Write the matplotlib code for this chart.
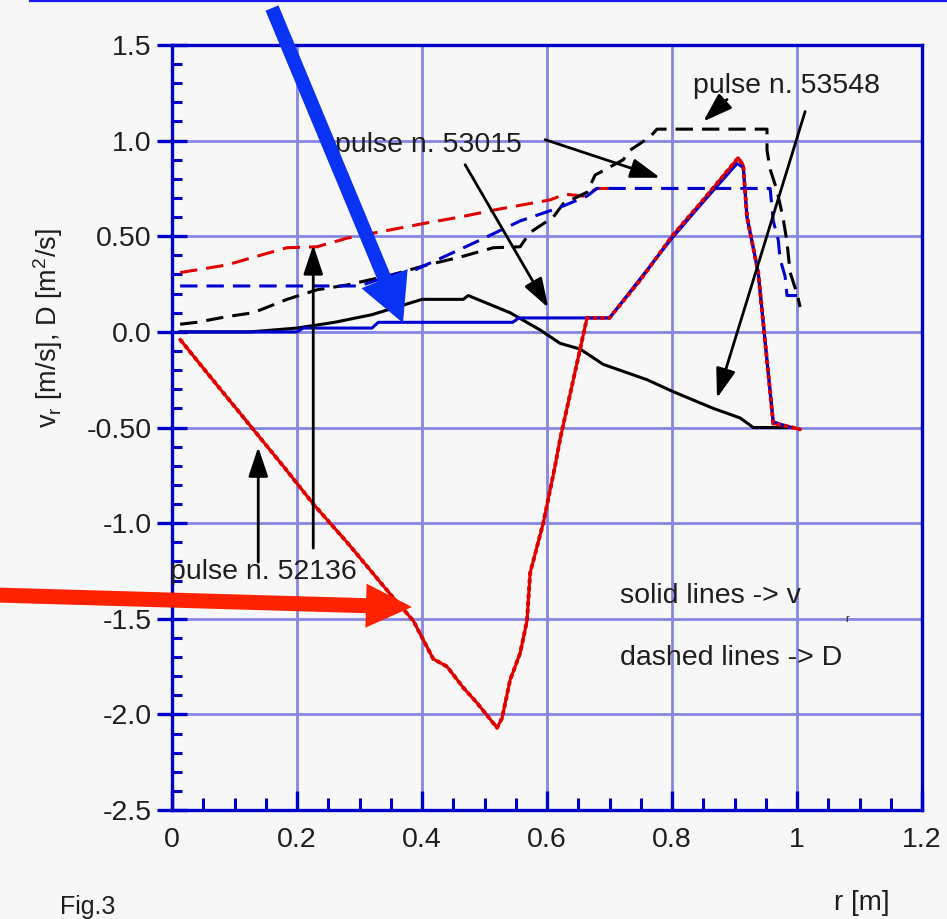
import matplotlib
matplotlib.use('Agg')
import matplotlib.pyplot as plt
from matplotlib.patches import FancyArrow
from matplotlib.lines import Line2D
from matplotlib.ticker import MultipleLocator, FixedLocator
from matplotlib.transforms import IdentityTransform

plt.rcParams['font.family'] = ['Liberation Sans', 'DejaVu Sans']
plt.rcParams['lines.scale_dashes'] = False

# ---------------- data ----------------
# pulse 52136, velocity (red solid)
r_v_52136 = [0.013, 0.06, 0.13, 0.18, 0.226, 0.28, 0.354, 0.386, 0.418, 0.44, 0.466, 0.488,
             0.52, 0.528, 0.541, 0.557, 0.568, 0.573, 0.594, 0.613, 0.621, 0.653, 0.664,
             0.70, 0.749, 0.80, 0.85, 0.906, 0.914, 0.92, 0.938, 0.952, 0.962, 0.98, 1.005]
v_52136 = [-0.04, -0.23, -0.51, -0.71, -0.90, -1.10, -1.39, -1.51, -1.71, -1.75, -1.86, -1.94,
           -2.07, -2.02, -1.82, -1.68, -1.51, -1.26, -1.00, -0.70, -0.56, -0.09, 0.073,
           0.073, 0.27, 0.50, 0.69, 0.91, 0.87, 0.60, 0.31, -0.15, -0.48, -0.49, -0.51]

# pulse 53015, velocity (blue solid)
r_v_53015 = [0.013, 0.20, 0.21, 0.32, 0.33, 0.545, 0.555, 0.70, 0.80, 0.85, 0.904,
             0.914, 0.92, 0.938, 0.952, 0.962, 0.99]
v_53015 = [0.0, 0.0, 0.02, 0.02, 0.05, 0.05, 0.073, 0.073, 0.49, 0.68, 0.88,
           0.86, 0.60, 0.31, -0.15, -0.47, -0.50]

# pulse 53548, velocity (black solid)
r_v_53548 = [0.013, 0.125, 0.20, 0.26, 0.32, 0.40, 0.466, 0.474, 0.541, 0.589, 0.621,
             0.653, 0.69, 0.76, 0.80, 0.866, 0.909, 0.93, 0.984]
v_53548 = [0.0, 0.0, 0.02, 0.05, 0.09, 0.17, 0.17, 0.19, 0.10, 0.01, -0.06,
           -0.09, -0.17, -0.25, -0.31, -0.40, -0.45, -0.50, -0.50]

# pulse 52136, diffusion (red dashed)
r_D_52136 = [0.013, 0.088, 0.13, 0.184, 0.232, 0.28, 0.344, 0.408, 0.46, 0.52, 0.605,
             0.629, 0.658, 0.68, 0.70]
D_52136 = [0.31, 0.35, 0.39, 0.44, 0.445, 0.49, 0.53, 0.57, 0.60, 0.64, 0.69,
           0.72, 0.71, 0.75, 0.75]

# pulse 53015, diffusion (blue dashed)
r_D_53015 = [0.013, 0.30, 0.354, 0.386, 0.44, 0.493, 0.557, 0.62, 0.664, 0.68, 0.957,
             0.962, 0.97, 0.973, 0.981, 0.984, 1.0]
D_53015 = [0.24, 0.24, 0.30, 0.32, 0.40, 0.48, 0.58, 0.65, 0.71, 0.75, 0.75,
           0.58, 0.48, 0.38, 0.29, 0.19, 0.19]

# pulse 53548, diffusion (black dashed)
r_D_53548 = [0.013, 0.04, 0.088, 0.13, 0.184, 0.232, 0.28, 0.354, 0.408, 0.46, 0.514,
             0.557, 0.573, 0.61, 0.626, 0.664, 0.677, 0.722, 0.733, 0.765, 0.776,
             0.952, 0.952, 0.957, 0.968, 0.978, 0.984, 0.989, 1.0, 1.005]
D_53548 = [0.04, 0.05, 0.08, 0.10, 0.17, 0.22, 0.245, 0.30, 0.35, 0.39, 0.44,
           0.445, 0.52, 0.60, 0.67, 0.73, 0.82, 0.90, 0.95, 1.02, 1.06,
           1.06, 0.95, 0.85, 0.74, 0.59, 0.47, 0.31, 0.20, 0.13]

x_ticks = [0, 0.2, 0.4, 0.6, 0.8, 1.0, 1.2]
x_tick_labels = ['0', '0.2', '0.4', '0.6', '0.8', '1', '1.2']
y_ticks = [-2.5, -2.0, -1.5, -1.0, -0.5, 0.0, 0.5, 1.0, 1.5]
y_tick_labels = ['-2.5', '-2.0', '-1.5', '-1.0', '-0.50', '0.0', '0.50', '1.0', '1.5']

# ---------------- figure ----------------
W, H = 947, 919
BG = '#f7f7f7'
SPINE = '#0000c8'
GRID = '#8585e4'
TXT = '#1e1e1e'

fig = plt.figure(figsize=(W / 100, H / 100), dpi=100, facecolor=BG)
ax = fig.add_axes([172 / W, 1 - 810 / H, 750 / W, 765 / H])
ax.set_facecolor(BG)
ax.set_xlim(0, 1.2)
ax.set_ylim(-2.5, 1.5)

for s in ax.spines.values():
    s.set_color(SPINE)
    s.set_linewidth(2.4)
    s.set_zorder(6)

ax.xaxis.set_major_locator(FixedLocator(x_ticks))
ax.set_xticklabels(x_tick_labels)
ax.yaxis.set_major_locator(FixedLocator(y_ticks))
ax.set_yticklabels(y_tick_labels)
ax.xaxis.set_minor_locator(MultipleLocator(0.05))
ax.yaxis.set_minor_locator(MultipleLocator(0.1))

ax.tick_params(axis='y', which='major', direction='inout', length=21, width=2.4,
               color=SPINE, labelsize=20.5, labelcolor=TXT, pad=4)
ax.tick_params(axis='y', which='minor', direction='in', length=7.5, width=2.2, color=SPINE)
ax.tick_params(axis='x', which='major', direction='in', length=14, width=2.4,
               color=SPINE, labelsize=20.5, labelcolor=TXT, pad=12)
ax.tick_params(axis='x', which='minor', direction='in', length=9, width=2.2, color=SPINE)

ax.grid(True, which='major', color=GRID, linewidth=2.0, zorder=0)
ax.set_axisbelow(True)

LW = 2.2
DASH = (12.5, 6.5)
# dashed: diffusion
ax.plot(r_D_52136, D_52136, color='#e00000', lw=LW, dashes=DASH, zorder=2)
ax.plot(r_D_53548, D_53548, color='black', lw=LW, dashes=DASH, zorder=2)
ax.plot(r_D_53015, D_53015, color='#0000d0', lw=LW, dashes=DASH, zorder=3)
# solid: velocity
ax.plot(r_v_53548, v_53548, color='black', lw=LW, zorder=3)
ax.plot(r_v_52136, v_52136, color='#e00000', lw=LW, zorder=3)
ax.plot(r_v_53015, v_53015, color='#0000d0', lw=LW, zorder=4)
ax.plot(r_v_52136, v_52136, color='#e00000', lw=LW + 0.6, dashes=(3.0, 2.4), zorder=5)

# text annotations
fs = 20.5
ax.text(0.261, 0.979, 'pulse n. 53015', fontsize=fs, color=TXT, ha='left', va='center', zorder=7)
ax.text(0.834, 1.288, 'pulse n. 53548', fontsize=fs, color=TXT, ha='left', va='center', zorder=7)
ax.text(-0.003, -1.257, 'pulse n. 52136', fontsize=fs, color=TXT, ha='left', va='center', zorder=7)
ax.text(0.717, -1.382, 'solid lines -> v', fontsize=fs, color=TXT, ha='left', va='center', zorder=7)
ax.text(1.08, -1.50, 'r', fontsize=8, color=TXT, ha='center', va='center', zorder=7)
ax.text(0.717, -1.707, 'dashed lines -> D', fontsize=fs, color=TXT, ha='left', va='center', zorder=7)

arrow_kw = dict(arrowstyle='-|>,head_length=0.9,head_width=0.3', color='black', lw=2.0,
                shrinkA=0, shrinkB=0, mutation_scale=20)
ax.annotate('', xy=(0.781, 0.806), xytext=(0.597, 1.005), arrowprops=arrow_kw, zorder=7)
ax.annotate('', xy=(0.602, 0.126), xytext=(0.469, 0.874), arrowprops=arrow_kw, zorder=7)
ax.annotate('', xy=(0.850, 1.10), xytext=(0.888, 1.215), arrowprops=arrow_kw, zorder=7)
ax.annotate('', xy=(0.872, -0.346), xytext=(1.013, 1.152), arrowprops=arrow_kw, zorder=7)
ax.annotate('', xy=(0.138, -0.602), xytext=(0.138, -1.204), arrowprops=arrow_kw, zorder=7)
ax.annotate('', xy=(0.226, 0.455), xytext=(0.226, -1.131), arrowprops=arrow_kw, zorder=7)

# axis labels
fig.text(48 / W, 1 - 328 / H, r'v$_{\mathregular{r}}$ [m/s], D [m$^{\mathregular{2}}$/s]',
         rotation=90, fontsize=19.5, color=TXT, ha='center', va='center')
fig.text(862 / W, 1 - 903 / H, 'r [m]', fontsize=20, color=TXT, ha='center', va='center')
fig.text(60 / W, 1 - 914 / H, 'Fig.3', fontsize=18, color=TXT, ha='left', va='baseline')

# top frame line
fig.add_artist(Line2D([30 / W, 1.0], [1 - 1 / H, 1 - 1 / H], transform=fig.transFigure,
                      color='#1a1aee', lw=1.6))

# big highlight arrows (pixel coordinates, origin bottom-left)
def big_arrow(x0, y0, x1, y1, width, head_w, head_l, color):
    y0d, y1d = H - y0, H - y1
    a = FancyArrow(x0, y0d, x1 - x0, y1d - y0d, width=width, head_width=head_w,
                   head_length=head_l, length_includes_head=True, color=color,
                   transform=IdentityTransform(), zorder=20, lw=0)
    fig.add_artist(a)

big_arrow(272, 8, 403, 323, 14, 50, 48, '#0a32f5')
big_arrow(-5, 595, 412, 607, 15, 44, 46, '#ff2200')

fig.savefig('out.png', dpi=100, facecolor=BG)
